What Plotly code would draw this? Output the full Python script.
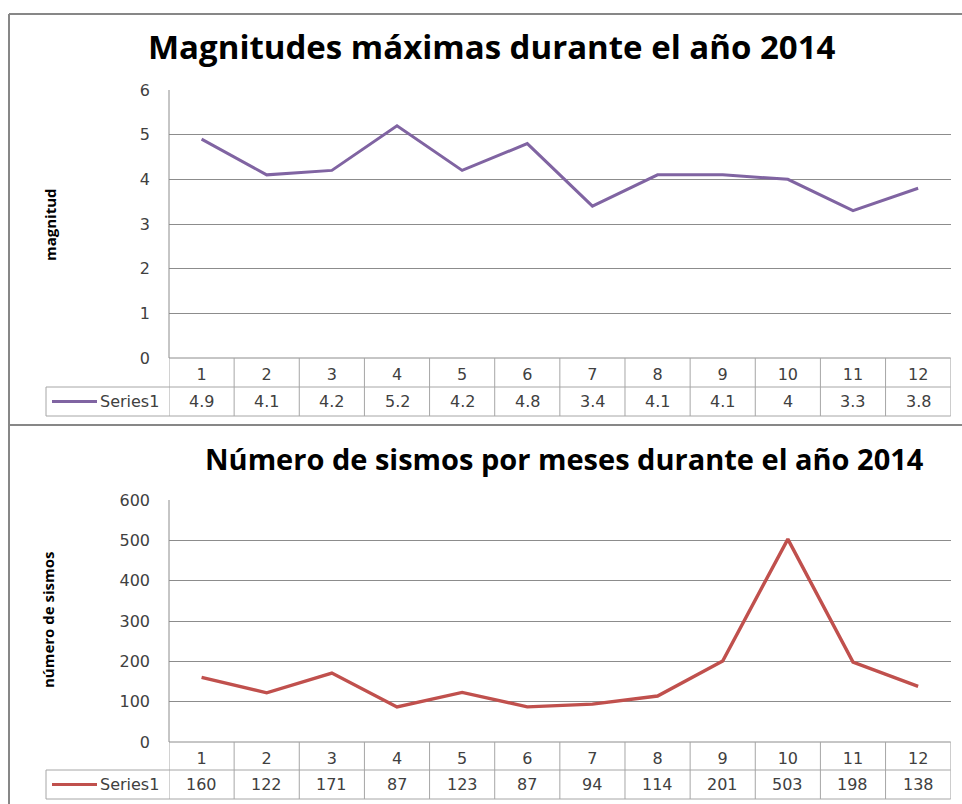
import plotly.graph_objects as go

W, H = 962, 804

months = [1, 2, 3, 4, 5, 6, 7, 8, 9, 10, 11, 12]
magnitudes = [4.9, 4.1, 4.2, 5.2, 4.2, 4.8, 3.4, 4.1, 4.1, 4.0, 3.3, 3.8]
magnitude_labels = ["4.9", "4.1", "4.2", "5.2", "4.2", "4.8", "3.4", "4.1", "4.1", "4", "3.3", "3.8"]
sismos = [160, 122, 171, 87, 123, 87, 94, 114, 201, 503, 198, 138]
series_name = "Series1"
title1 = "Magnitudes máximas durante el año 2014"
title2 = "Número de sismos por meses durante el año 2014"
ytitle1 = "magnitud"
ytitle2 = "número de sismos"

PURPLE = "#8064A2"
RED = "#C0504D"
GRID = "#8C8C8C"
TABLE = "#A6A6A6"
FRAME = "#878787"
TXT = "#404040"
FONT = "DejaVu Sans"
TFONT = "Open Sans"


def px(x):
    return x / W


def py(y):
    return 1 - y / H


fig = go.Figure()
fig.add_trace(go.Scatter(x=months, y=magnitudes, mode="lines", name=series_name,
                         line=dict(color=PURPLE, width=3), xaxis="x", yaxis="y"))
fig.add_trace(go.Scatter(x=months, y=sismos, mode="lines", name=series_name,
                         line=dict(color=RED, width=3.4), xaxis="x2", yaxis="y2"))

L, R = 169, 950.7
charts = [
    dict(top=90, bottom=358, row2=387, row3=416, vals=magnitude_labels, color=PURPLE,
         title=title1, tsize=33, tx=492, ty=46, yt=ytitle1, ytx=50, yty=225, xa="x", ya="y"),
    dict(top=500, bottom=742, row2=770, row3=799, vals=[str(v) for v in sismos], color=RED,
         title=title2, tsize=29, tx=564, ty=458, yt=ytitle2, ytx=48, yty=620, xa="x2", ya="y2"),
]

axis_common = dict(showline=False, zeroline=False, ticks="", fixedrange=True, automargin=False)
tickfont = dict(family=FONT, size=16, color=TXT)

fig.update_layout(
    xaxis=dict(domain=[px(L), px(R)], range=[0.5, 12.5], tickvals=months,
               ticktext=[str(m) for m in months], showgrid=False, anchor="y",
               tickfont=tickfont, ticklabelstandoff=5, **axis_common),
    yaxis=dict(domain=[py(358), py(90)], range=[0, 6], dtick=1, showgrid=True,
               gridcolor=GRID, gridwidth=1, anchor="x",
               tickfont=tickfont, ticklabelstandoff=18, **axis_common),
    xaxis2=dict(domain=[px(L), px(R)], range=[0.5, 12.5], tickvals=months,
                ticktext=[str(m) for m in months], showgrid=False, anchor="y2",
                tickfont=tickfont, ticklabelstandoff=5, **axis_common),
    yaxis2=dict(domain=[py(742), py(500)], range=[0, 600], dtick=100, showgrid=True,
                gridcolor=GRID, gridwidth=1, anchor="x2",
                tickfont=tickfont, ticklabelstandoff=18, **axis_common),
)

shapes = []
annotations = []
for c in charts:
    shapes.append(dict(type="line", xref="paper", yref="paper", x0=px(L), x1=px(L),
                       y0=py(c["bottom"]), y1=py(c["top"]), line=dict(color=GRID, width=1)))
    shapes.append(dict(type="line", xref="paper", yref="paper", x0=px(L), x1=px(R),
                       y0=py(c["bottom"]), y1=py(c["bottom"]), line=dict(color=GRID, width=1)))
    for yy in (c["row2"], c["row3"]):
        shapes.append(dict(type="line", xref="paper", yref="paper", x0=px(46), x1=px(R),
                           y0=py(yy), y1=py(yy), line=dict(color=TABLE, width=1)))
    shapes.append(dict(type="line", xref="paper", yref="paper", x0=px(46), x1=px(46),
                       y0=py(c["row3"]), y1=py(c["row2"]), line=dict(color=TABLE, width=1)))
    for i in range(len(months) + 1):
        shapes.append(dict(type="line", xref=c["xa"], yref="paper", x0=i + 0.5, x1=i + 0.5,
                           y0=py(c["row3"]), y1=py(c["bottom"]), line=dict(color=TABLE, width=1)))
    ymid = (c["row2"] + c["row3"]) / 2
    shapes.append(dict(type="line", xref="paper", yref="paper", x0=px(52), x1=px(97),
                       y0=py(ymid), y1=py(ymid), line=dict(color=c["color"], width=3)))
    annotations.append(dict(xref="paper", yref="paper", x=px(98), y=py(ymid), text=series_name,
                            showarrow=False, xanchor="left", yanchor="middle", font=tickfont))
    for m, v in zip(months, c["vals"]):
        annotations.append(dict(xref=c["xa"], yref="paper", x=m, y=py(ymid), text=v,
                                showarrow=False, xanchor="center", yanchor="middle",
                                font=tickfont))
    annotations.append(dict(xref="paper", yref="paper", x=px(c["tx"]), y=py(c["ty"]),
                            text="<b>" + c["title"] + "</b>", showarrow=False,
                            xanchor="center", yanchor="middle",
                            font=dict(family=TFONT, size=c["tsize"], color="#000000")))
    annotations.append(dict(xref="paper", yref="paper", x=px(c["ytx"]), y=py(c["yty"]),
                            text="<b>" + c["yt"] + "</b>", showarrow=False, textangle=-90,
                            xanchor="center", yanchor="middle",
                            font=dict(family=TFONT, size=15, color="#000000")))

shapes.append(dict(type="line", xref="paper", yref="paper", x0=px(9), x1=1.0,
                   y0=py(14), y1=py(14), line=dict(color=FRAME, width=2)))
shapes.append(dict(type="line", xref="paper", yref="paper", x0=px(9), x1=px(9),
                   y0=0, y1=py(14), line=dict(color=FRAME, width=2)))
shapes.append(dict(type="line", xref="paper", yref="paper", x0=px(9), x1=1.0,
                   y0=py(425), y1=py(425), line=dict(color=FRAME, width=2)))

fig.update_layout(
    width=W, height=H, margin=dict(l=0, r=0, t=0, b=0, pad=0, autoexpand=False),
    paper_bgcolor="white", plot_bgcolor="white", showlegend=False,
    shapes=shapes, annotations=annotations,
)

fig.write_html("out.html", config={"displayModeBar": False},
               post_script="document.body.style.margin='0';document.body.style.overflow='hidden';")
